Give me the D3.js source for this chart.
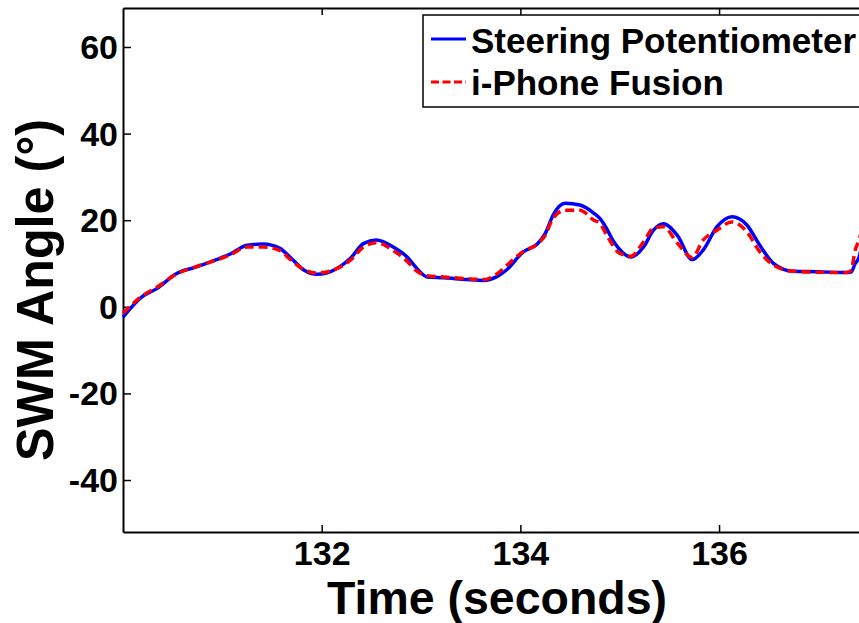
<!DOCTYPE html>
<html>
<head>
<meta charset="utf-8">
<script src="https://cdn.jsdelivr.net/npm/d3@7"></script>
<style>
  body { margin: 0; background: #fff; }
  svg { display: block; font-family: "Liberation Sans", Arial, Helvetica, sans-serif; font-weight: bold; }
</style>
</head>
<body>
<svg id="viz"></svg>
<script>
// ----------------------- DATA

const seriesNames = ['Steering Potentiometer', 'i-Phone Fusion'];

const timePot = [130.00, 130.19, 130.34, 130.54, 130.74, 130.94, 131.08, 131.25, 131.41, 131.58,
  131.68, 131.82, 131.95, 132.15, 132.29, 132.42, 132.55, 132.72, 132.86, 132.96,
  133.06, 133.23, 133.46, 133.63, 133.76, 133.86, 134.03, 134.17, 134.25, 134.33,
  134.45, 134.60, 134.74, 134.80, 134.87, 134.93, 134.99, 135.11, 135.24, 135.34,
  135.44, 135.58, 135.73, 135.84, 135.98, 136.13, 136.28, 136.41, 136.55, 136.75,
  136.99, 137.29, 137.33, 137.37, 137.41, 137.45];
const anglePot = [-2.4, 2.3, 4.2, 7.7, 9.2, 10.9, 12.2, 14.2, 14.5, 13.5,
  11.5, 8.5, 7.5, 8.8, 11.2, 14.6, 15.4, 13.8, 11.5, 8.8,
  6.9, 6.7, 6.3, 6.1, 6.9, 8.5, 12.7, 14.5, 16.9, 21.2,
  23.9, 23.5, 21.6, 20.4, 18.0, 15.4, 13.5, 11.5, 13.8, 17.7,
  19.2, 16.5, 10.9, 13.1, 18.5, 20.8, 18.9, 14.2, 10.0, 8.2,
  8.1, 7.9, 8.0, 10.0, 11.5, 16.0];

const timeFusion = timePot;
const angleFusion = [-1.5, 2.5, 4.5, 7.6, 9.3, 10.8, 12.0, 13.8, 13.8, 13.0,
  11.0, 8.6, 7.8, 8.8, 10.8, 13.8, 14.8, 13.0, 10.5, 8.2,
  7.2, 6.9, 6.5, 6.3, 7.5, 9.5, 12.8, 14.5, 16.5, 20.5,
  22.3, 22.3, 20.0, 19.3, 16.5, 14.2, 12.5, 11.7, 15.0, 18.2,
  18.5, 14.7, 11.4, 15.4, 17.7, 19.6, 17.3, 12.7, 9.6, 8.2,
  8.0, 7.9, 8.5, 13.0, 15.5, 19.0];

const xTicks = [132, 134, 136];
const yTicks = [-40, -20, 0, 20, 40, 60];

// ----------------------- SETTINGS

const width = 859, height = 623;
const plot = { left: 123, top: 8, right: 878, bottom: 532 };

const svg = d3.select('#viz')
  .attr('width', width)
  .attr('height', height);

// plain hyphen for negatives, like the original figure
const fmt = d => String(d);

// ----------------------- SCALES

const x = d3.scaleLinear()
  .domain([130, 137.6])
  .range([plot.left, plot.right]);

const y = d3.scaleLinear()
  .domain([-52, 69])
  .range([plot.bottom, plot.top]);

// ----------------------- AXES

const styleAxis = g => {
  g.select('.domain').attr('stroke', '#000').attr('stroke-width', 2);
  g.selectAll('.tick line').attr('stroke', '#000').attr('stroke-width', 1.5);
};

// bottom
svg.append('g')
  .attr('transform', `translate(0, ${plot.bottom})`)
  .call(d3.axisBottom(x).tickValues(xTicks).tickSizeInner(-7).tickSizeOuter(0).tickFormat(fmt))
  .call(styleAxis)
  .call(g => g.selectAll('.tick text')
    .attr('y', 33).attr('dy', 0)
    .attr('fill', '#000')
    .style('font-size', '34px').style('font-weight', 'bold'));

// top (mirror, no labels)
svg.append('g')
  .attr('transform', `translate(0, ${plot.top})`)
  .call(d3.axisTop(x).tickValues(xTicks).tickSizeInner(-7).tickSizeOuter(0).tickFormat(''))
  .call(styleAxis);

// left
svg.append('g')
  .attr('transform', `translate(${plot.left}, 0)`)
  .call(d3.axisLeft(y).tickValues(yTicks).tickSizeInner(-8).tickSizeOuter(0).tickFormat(fmt))
  .call(styleAxis)
  .call(g => g.selectAll('.tick text')
    .attr('x', -5).attr('dy', '0.34em')
    .attr('fill', '#000')
    .style('font-size', '34px').style('font-weight', 'bold'));

// right (mirror, mostly off the page)
svg.append('g')
  .attr('transform', `translate(${plot.right}, 0)`)
  .call(d3.axisRight(y).tickValues(yTicks).tickSizeInner(-8).tickSizeOuter(0).tickFormat(''))
  .call(styleAxis);

// axis titles
svg.append('text')
  .attr('x', 497)
  .attr('y', 614)
  .attr('text-anchor', 'middle')
  .attr('textLength', 340)
  .attr('lengthAdjust', 'spacingAndGlyphs')
  .style('font-size', '47px')
  .text('Time (seconds)');

svg.append('text')
  .attr('transform', 'translate(53, 290) rotate(-90)')
  .attr('text-anchor', 'middle')
  .attr('textLength', 342)
  .attr('lengthAdjust', 'spacingAndGlyphs')
  .style('font-size', '52px')
  .text('SWM Angle (°)');

// ----------------------- LINES

const line = d3.line()
  .x(d => x(d[0]))
  .y(d => y(d[1]))
  .curve(d3.curveMonotoneX);

svg.append('path')
  .datum(d3.zip(timePot, anglePot))
  .attr('fill', 'none')
  .attr('stroke', '#0000ff')
  .attr('stroke-width', 3.5)
  .attr('d', line);

svg.append('path')
  .datum(d3.zip(timeFusion, angleFusion))
  .attr('fill', 'none')
  .attr('stroke', '#ff0000')
  .attr('stroke-width', 3.5)
  .attr('stroke-dasharray', '9,5')
  .attr('d', line);

// ----------------------- LEGEND

const legend = svg.append('g');

legend.append('rect')
  .attr('x', 423).attr('y', 15)
  .attr('width', 460).attr('height', 92)
  .attr('fill', '#fff')
  .attr('stroke', '#000')
  .attr('stroke-width', 1.5);

const legendRows = [
  { name: seriesNames[0], color: '#0000ff', dash: null, ly: 39, ty: 53 },
  { name: seriesNames[1], color: '#ff0000', dash: '8,3.5', ly: 82, ty: 95 }
];

legendRows.forEach(r => {
  legend.append('line')
    .attr('x1', 431).attr('x2', 466)
    .attr('y1', r.ly).attr('y2', r.ly)
    .attr('stroke', r.color)
    .attr('stroke-width', 3)
    .attr('stroke-dasharray', r.dash);
  legend.append('text')
    .attr('x', 471).attr('y', r.ty)
    .style('font-size', '35px')
    .text(r.name);
});
</script>
</body>
</html>
